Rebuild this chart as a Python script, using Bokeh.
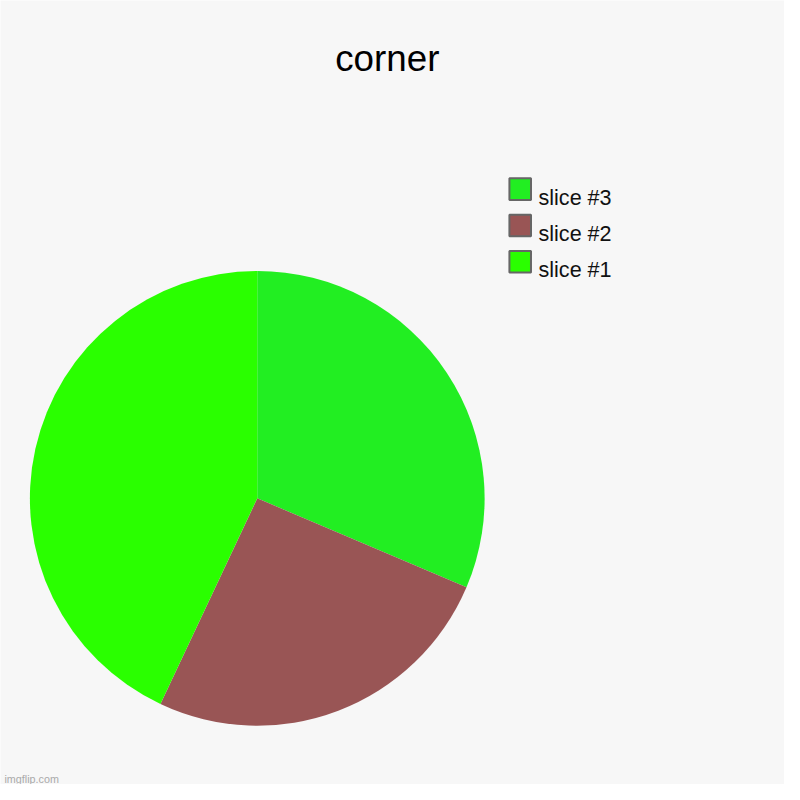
import numpy as np
from bokeh.plotting import figure
from bokeh.models import Range1d, ColumnDataSource
from bokeh.core.properties import value
from bokeh.embed import file_html
from bokeh.resources import INLINE

title = "corner"
labels = ["slice #1", "slice #2", "slice #3"]
values = [43.0, 25.6, 31.4]
colors = ["#2aff00", "#995555", "#22ee22"]
watermark = "imgflip.com"

W = H = 784
REF = 800
S = W / REF  # screen px per reference px
BG = "#f7f7f7"
FONT = "Liberation Sans"

def fs(px):
    return f"{px * S:.2f}px"

def Y(ry):
    return REF - ry

p = figure(width=W, height=H, output_backend="svg", toolbar_location=None,
           x_range=Range1d(0, REF), y_range=Range1d(0, REF), min_border=0,
           background_fill_color=BG, border_fill_color=BG, outline_line_color=None)
p.xaxis.visible = False
p.yaxis.visible = False
p.grid.visible = False

# Pie: drawn clockwise from 12 o'clock, in order slice #3, #2, #1
order = [2, 1, 0]
vals = np.array([values[i] for i in order])
frac = vals / vals.sum()
cum = np.concatenate([[0], np.cumsum(frac)]) * 2 * np.pi
start = np.pi / 2 - cum[:-1]
end = np.pi / 2 - cum[1:]
src = ColumnDataSource(dict(start=start, end=end,
                            color=[colors[i] for i in order],
                            label=[labels[i] for i in order]))
p.wedge(x=262, y=Y(508), radius=232, start_angle="start", end_angle="end",
        direction="clock", fill_color="color", line_color=None, source=src)

# Title
p.text(x=[394.7], y=[Y(59.3)], text=[title], text_font=value(FONT),
       text_font_size=fs(37.5), text_align="center", text_baseline="alphabetic",
       text_color="#000000")

# Legend (reversed: slice #3 on top)
leg_labels = [labels[i] for i in order]
leg_colors = [colors[i] for i in order]
n = len(leg_labels)
box_y = [Y(192.5 + 37 * k) for k in range(n)]
p.rect(x=[530.3] * n, y=box_y, width=22, height=22, fill_color=leg_colors,
       line_color="#666666", line_width=2)
p.text(x=[549] * n, y=[b - 8.2 for b in box_y], text=leg_labels,
       text_font=value(FONT), text_font_size=fs(22), text_align="left",
       text_baseline="alphabetic", text_color="#111111")

# Watermark
p.text(x=[4], y=[Y(794)], text=[watermark], text_font=value(FONT),
       text_font_size=fs(11), text_align="left", text_baseline="alphabetic",
       text_color="#aaaaaa")

open("out.html", "w").write(file_html(p, INLINE))
